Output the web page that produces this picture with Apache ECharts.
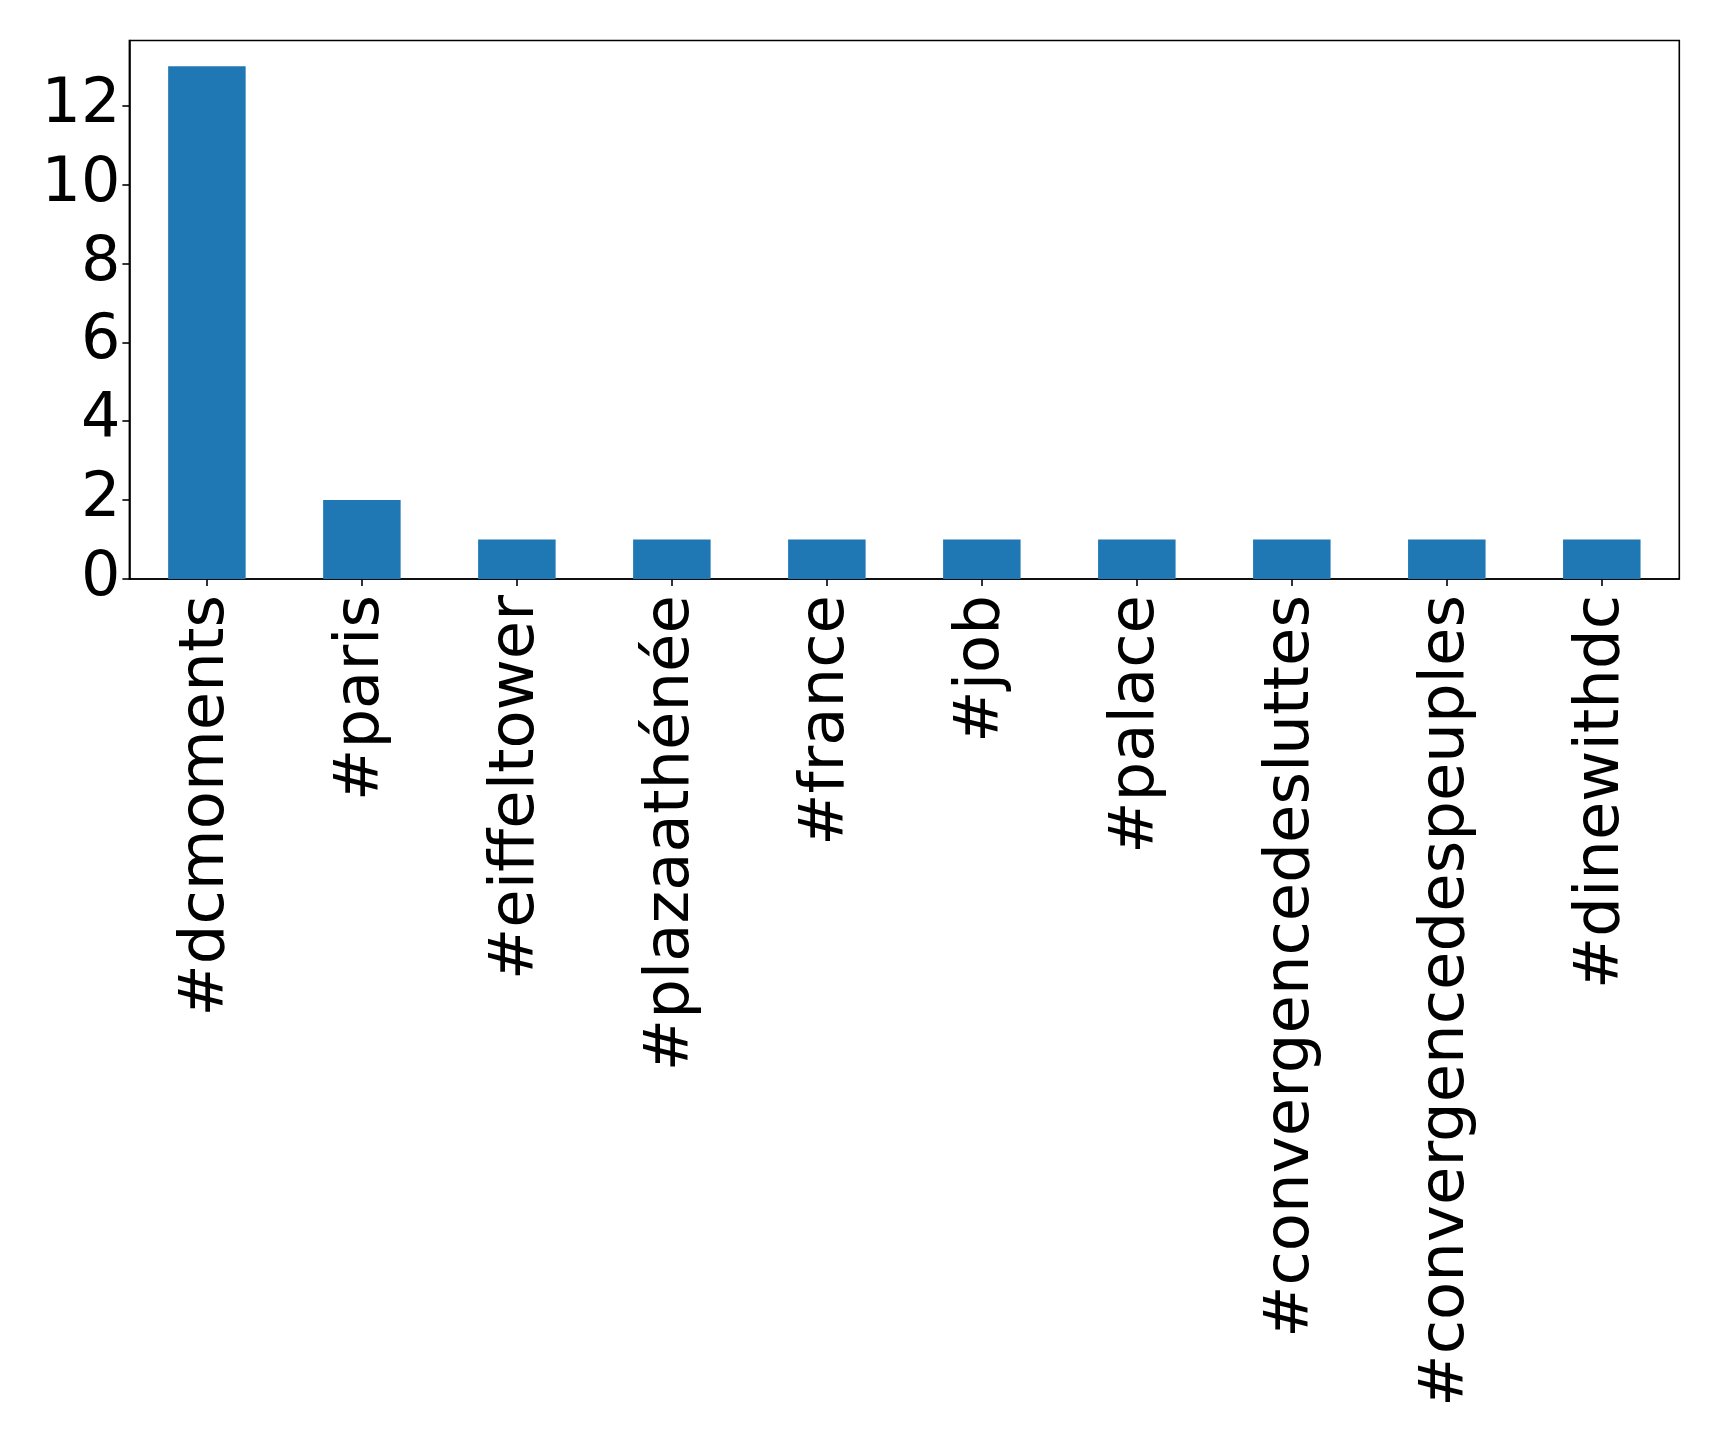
<!DOCTYPE html>
<html>
<head>
<meta charset="utf-8">
<script src="https://cdn.jsdelivr.net/npm/echarts@6/dist/echarts.min.js"></script>
<style>
html,body{margin:0;padding:0;background:#fff;}
#chart{width:1719px;height:1440px;}
</style>
</head>
<body>
<div id="chart"></div>
<script>
const categories = ["#dcmoments","#paris","#eiffeltower","#plazaathénée","#france","#job","#palace","#convergencedesluttes","#convergencedespeuples","#dinewithdc"];
const counts = [13, 2, 1, 1, 1, 1, 1, 1, 1, 1];
const yTicks = [0, 2, 4, 6, 8, 10, 12];

const chart = echarts.init(document.getElementById('chart'), null, {renderer: 'canvas'});
const font = 'DejaVu Sans';
chart.setOption({
  animation: false,
  backgroundColor: '#ffffff',
  grid: {
    left: 129.4, top: 40.5, right: 39.7, bottom: 861,
    show: true, borderColor: '#000', borderWidth: 1.6, backgroundColor: 'transparent'
  },
  xAxis: {
    type: 'category',
    data: categories,
    axisLine: {show: true, lineStyle: {color: '#000', width: 1.6}},
    axisTick: {show: true, alignWithLabel: true, length: 7, lineStyle: {color: '#000', width: 1.6}},
    axisLabel: {rotate: 90, margin: 16, fontSize: 62.5, fontFamily: font, color: '#000', interval: 0},
    splitLine: {show: false}
  },
  yAxis: {
    type: 'value',
    min: 0, max: 13.65,
    axisLine: {show: true, lineStyle: {color: '#000', width: 1.6}},
    axisTick: {show: true, length: 7, lineStyle: {color: '#000', width: 1.6}, customValues: yTicks},
    axisLabel: {margin: 9, fontSize: 62, fontFamily: font, color: '#000', customValues: yTicks},
    splitLine: {show: false}
  },
  series: [{
    type: 'bar',
    data: counts,
    barWidth: '50%',
    itemStyle: {color: '#1f77b4'}
  }]
});
</script>
</body>
</html>
